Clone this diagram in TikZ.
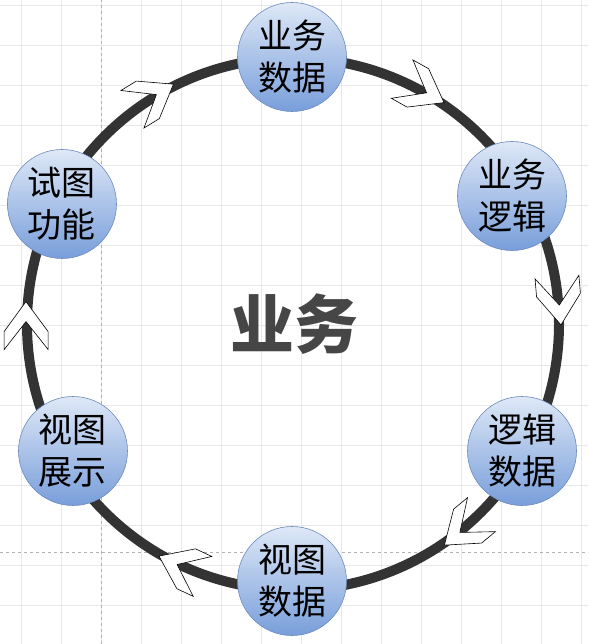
\documentclass[tikz,border=0pt]{standalone}
\usepackage{fontspec}
\usepackage{xcolor}
\usepackage{tikz}
\usetikzlibrary{shapes,arrows,positioning,calc}
\newfontfamily\cjk{Noto Sans CJK SC}
\definecolor{ringgray}{RGB}{51, 51, 51}
\definecolor{gridgray}{RGB}{232, 232, 236}
\definecolor{nodetop}{RGB}{222, 232, 247}
\definecolor{nodebottom}{RGB}{120, 158, 218}
\definecolor{nodeedge}{RGB}{108, 138, 190}
\definecolor{titlegray}{RGB}{70, 70, 70}

\tikzset{
  stage/.style={circle, minimum size=109pt, inner sep=0pt, draw=nodeedge, line width=0.6pt,
    top color=nodetop, bottom color=nodebottom, align=center,
    font=\cjk\fontsize{34}{42}\selectfont},
  flowmark/.pic={
    \draw[fill=white, draw=black, line width=0.6pt]
      (0,0) -- (-30,22) -- (-48,22) -- (-20,0) -- (-48,-22) -- (-30,-22) -- cycle;
  }
}

\begin{document}
\begin{tikzpicture}[x=1pt, y=1pt]
        \useasboundingbox (-293,-320) rectangle (295,324);
        % Background grid
        \fill[white] (-293,-320) rectangle (295,324);
        \foreach \k in {0,...,14} {
            \draw[gridgray, line width=0.6pt] ({-271.3+40*\k},-320) -- ++(0,644);
        }
        \foreach \k in {0,...,16} {
            \draw[gridgray, line width=0.6pt] (-293,{319-40*\k}) -- ++(588,0);
        }
        \draw[gray!60, dashed, line width=0.5pt] (-191.3,-320) -- (-191.3,324);
        \draw[gray!60, dashed, line width=0.5pt] (-293,-228) -- (295,-228);
        
        % Ring
        \draw[ringgray, line width=10pt] (0,0) circle (266);
        
        % Direction marks (clockwise)
        \foreach \a in {116.5, 55.7, -0.2, -55.6, -120, 175.2} {
            \pic[rotate=\a-85] at (\a:268) {flowmark};
        }
        
        % Stages
        \node[stage] (bizdata) at (-1,267) {业务\\数据};
        \node[stage] (bizlogic) at (219,128) {业务\\逻辑};
        \node[stage] (logicdata) at (229,-127) {逻辑\\数据};
        \node[stage] (viewdata) at (-1,-257) {视图\\数据};
        \node[stage] (viewshow) at (-220,-127) {视图\\展示};
        \node[stage] (viewfunc) at (-231,120) {试图\\功能};
        
        % Centre label
        \node[font=\cjk\bfseries\fontsize{64}{70}\selectfont, text=titlegray] (core) at (1,0) {业务};
    \end{tikzpicture}
\end{document}
